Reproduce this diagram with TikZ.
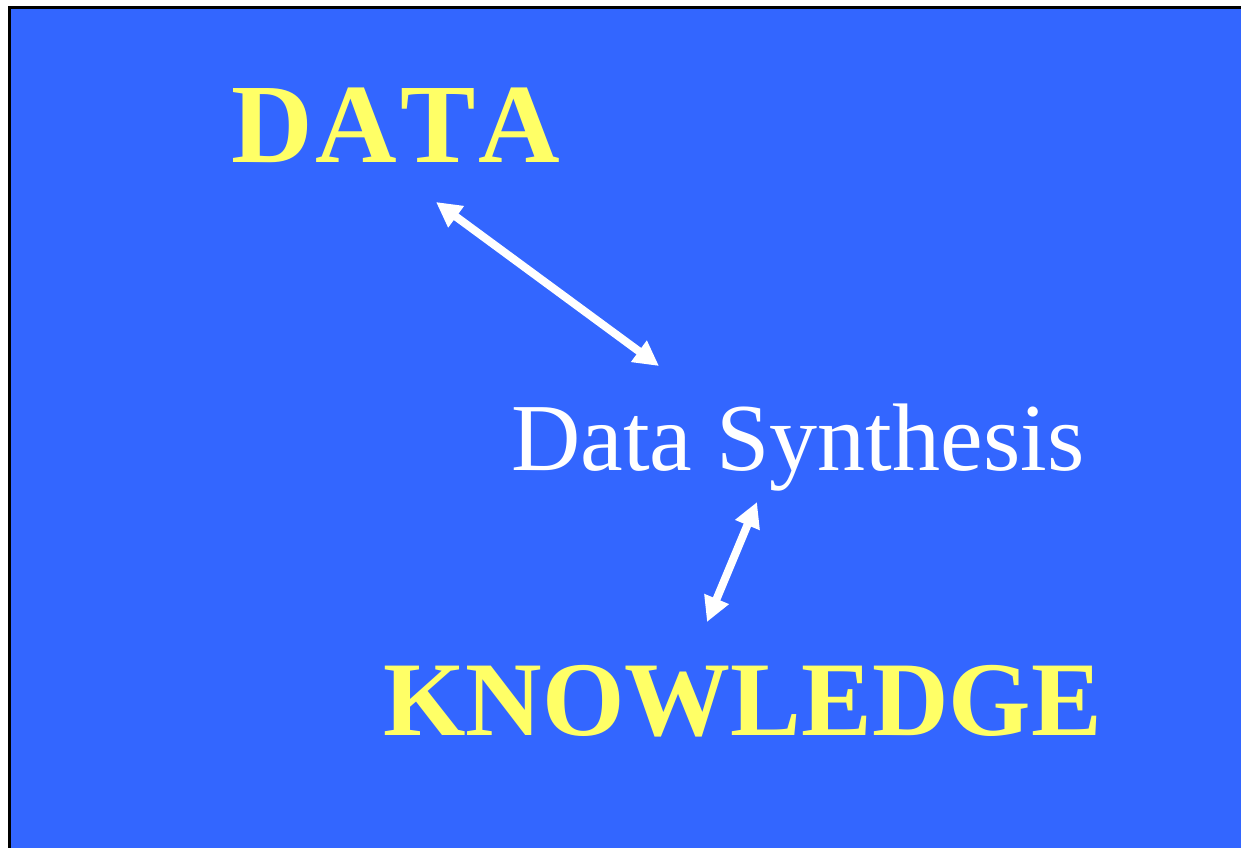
\documentclass[tikz,border=0pt]{standalone}
\usepackage{fontspec}
\setmainfont{Liberation Serif}
\usetikzlibrary{arrows.meta}
\definecolor{slideblue}{HTML}{3366FF}
\definecolor{slideyellow}{HTML}{FFFF66}
\tikzset{
  title/.style={font=\fontsize{113}{113}\selectfont\bfseries, text=slideyellow, inner sep=0pt, anchor=base west},
  bigword/.style={font=\fontsize{106}{106}\selectfont\bfseries, text=slideyellow, inner sep=0pt, anchor=base west},
  midword/.style={font=\fontsize{96}{96}\selectfont, text=white, inner sep=0pt, anchor=base west},
  link/.style={white, line width=8pt, {Triangle[length=25pt,width=25pt]}-{Triangle[length=25pt,width=25pt]}}
}
\begin{document}
\begin{tikzpicture}[x=1pt,y=-1pt]
\useasboundingbox (0,0) rectangle (1241,848);
\fill[white] (0,0) rectangle (1241,848);
\fill[black] (8,6) rectangle (1241,848);
\fill[slideblue] (11,9) rectangle (1241,848);
\node[title] (data) at (231,162) {D\kern3pt A\kern3pt T\kern3pt A};
\node[midword] (synth) at (511,470) {Data Synthesis};
\node[bigword] (know) at (383,735) {KNOWLEDGE};
\coordinate (d1) at (436,202);
\coordinate (d2) at (659,366);
\coordinate (k1) at (757,502);
\coordinate (k2) at (707,622);
\draw[link] (d1) -- (d2);
\draw[link] (k1) -- (k2);
\end{tikzpicture}
\end{document}
